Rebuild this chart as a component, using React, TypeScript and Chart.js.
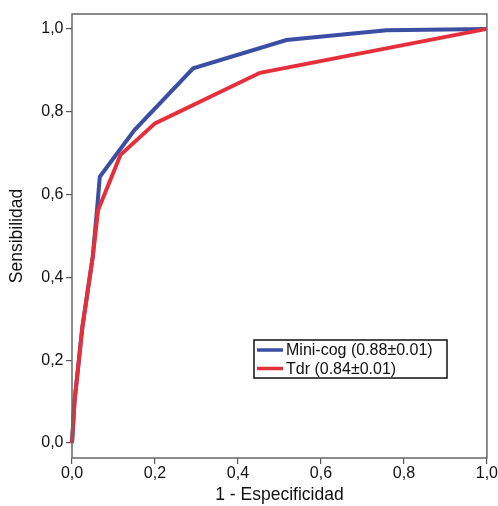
import React, { useEffect, useRef } from "react";
import { Chart, registerables } from "chart.js";

Chart.register(...registerables);

const seriesLabels = ["Mini-cog (0.88\u00b10.01)", "Tdr (0.84\u00b10.01)"];
const miniCogFpr = [0, 0.006, 0.025, 0.05, 0.06, 0.067, 0.15, 0.292, 0.517, 0.758, 1.0];
const miniCogTpr = [0, 0.1, 0.28, 0.45, 0.56, 0.643, 0.755, 0.905, 0.973, 0.997, 1.0];
const tdrFpr = [0, 0.006, 0.025, 0.05, 0.063, 0.117, 0.2, 0.453, 1.0];
const tdrTpr = [0, 0.1, 0.28, 0.45, 0.563, 0.696, 0.772, 0.894, 1.0];
const tickValues = [0, 0.2, 0.4, 0.6, 0.8, 1.0];
const xTitle = "1 - Especificidad";
const yTitle = "Sensibilidad";

const BLUE = "#3a4ea3";
const RED = "#e5303b";
const FONT = "'Liberation Sans', Arial, Helvetica, sans-serif";

const framePlugin = {
  id: "frame",
  afterDatasetsDraw(chart: any) {
    const { ctx, chartArea } = chart;
    ctx.save();
    ctx.strokeStyle = "#666";
    ctx.lineWidth = 1.5;
    ctx.strokeRect(chartArea.left, chartArea.top, chartArea.right - chartArea.left, chartArea.bottom - chartArea.top);
    ctx.restore();
  },
};

const legendPlugin = {
  id: "boxLegend",
  afterDraw(chart: any) {
    const { ctx, chartArea } = chart;
    const x0 = chartArea.left + 182;
    const y0 = chartArea.top + 326;
    const w = 193;
    const h = 38;
    ctx.save();
    ctx.fillStyle = "#fff";
    ctx.fillRect(x0, y0, w, h);
    ctx.strokeStyle = "#111";
    ctx.lineWidth = 1.5;
    ctx.strokeRect(x0, y0, w, h);
    ctx.font = `16px ${FONT}`;
    ctx.textBaseline = "middle";
    chart.data.datasets.forEach((ds: any, i: number) => {
      const y = y0 + 10 + i * 18.5;
      ctx.strokeStyle = ds.borderColor;
      ctx.lineWidth = 3.5;
      ctx.beginPath();
      ctx.moveTo(x0 + 3, y);
      ctx.lineTo(x0 + 29, y);
      ctx.stroke();
      ctx.fillStyle = "#111";
      ctx.fillText(ds.label, x0 + 32, y + 1);
    });
    ctx.restore();
  },
};

const fmt = (v: number) => Number(v).toFixed(1).replace(".", ",");

export default function App() {
  const ref = useRef<HTMLCanvasElement | null>(null);
  useEffect(() => {
    if (!ref.current) return;
    const toPts = (xs: number[], ys: number[]) => xs.map((x, i) => ({ x, y: ys[i] }));
    const chart = new Chart(ref.current, {
      type: "line",
      data: {
        datasets: [
          {
            label: seriesLabels[0],
            data: toPts(miniCogFpr, miniCogTpr),
            borderColor: BLUE,
            borderWidth: 4,
            pointRadius: 0,
            tension: 0,
            order: 1,
            clip: 4,
          },
          {
            label: seriesLabels[1],
            data: toPts(tdrFpr, tdrTpr),
            borderColor: RED,
            borderWidth: 4,
            pointRadius: 0,
            tension: 0,
            order: 0,
            clip: 4,
          },
        ],
      },
      options: {
        animation: false,
        responsive: false,
        maintainAspectRatio: false,
        layout: { padding: { top: 14, right: 10, left: 0, bottom: 0 } },
        plugins: { legend: { display: false }, tooltip: { enabled: false } },
        scales: {
          x: {
            type: "linear",
            min: 0,
            max: 1,
            afterBuildTicks: (s: any) => {
              s.ticks = tickValues.map((v) => ({ value: v }));
            },
            afterFit: (s: any) => {
              s.height = 48;
            },
            grid: { drawOnChartArea: false, drawTicks: true, tickLength: 6, color: "#555", lineWidth: 1.2 },
            border: { display: false },
            ticks: {
              callback: (v: any) => fmt(v),
              color: "#111",
              font: { family: FONT, size: 16 },
              padding: 0,
              maxRotation: 0,
            },
            title: {
              display: true,
              text: xTitle,
              color: "#111",
              font: { family: FONT, size: 17.5 },
              padding: { top: 0, bottom: 0 },
            },
          },
          y: {
            type: "linear",
            min: -0.036,
            max: 1.036,
            afterBuildTicks: (s: any) => {
              s.ticks = tickValues.map((v) => ({ value: v }));
            },
            afterFit: (s: any) => {
              s.width = 72;
            },
            grid: { drawOnChartArea: false, drawTicks: true, tickLength: 6, color: "#555", lineWidth: 1.2 },
            border: { display: false },
            ticks: {
              callback: (v: any) => fmt(v),
              color: "#111",
              font: { family: FONT, size: 16 },
              padding: 2.5,
            },
            title: {
              display: true,
              text: yTitle,
              color: "#111",
              font: { family: FONT, size: 17.5 },
              padding: { top: 6.5, bottom: 0 },
            },
          },
        },
      },
      plugins: [framePlugin, legendPlugin],
    } as any);
    return () => chart.destroy();
  }, []);
  return (
    <div style={{ position: "absolute", left: 0, top: 0, width: 498, height: 506, background: "#fff" }}>
      <canvas ref={ref} width={498} height={506} style={{ width: 498, height: 506, display: "block" }} />
    </div>
  );
}
